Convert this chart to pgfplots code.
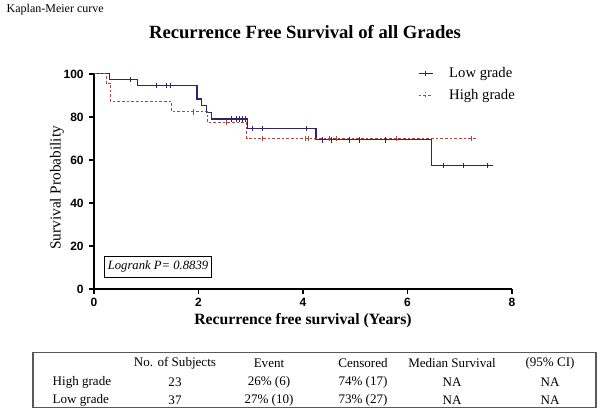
\documentclass[border=0pt]{standalone}
\usepackage{pgfplots}
\pgfplotsset{compat=1.18}
\usepackage{fontspec}
\setmainfont{Liberation Serif}
\newfontfamily\sansf{Liberation Sans}
\definecolor{lowc}{RGB}{45,35,110}
\definecolor{highc}{RGB}{170,70,60}
\begin{document}
\begin{tikzpicture}
\begin{scope}[x=0.75pt,y=-0.75pt]
\path[use as bounding box] (0,0) rectangle (600,408);
\end{scope}
\begin{axis}[
  at={(70.5pt,-216pt)}, anchor=south west,
  scale only axis, width=313.5pt, height=161.25pt,
  xmin=0, xmax=8, ymin=0, ymax=100,
  axis x line*=bottom, axis y line*=left,
  axis line style={line width=1.1pt},
  xtick={0,2,4,6,8}, ytick={0,20,40,60,80,100},
  tick align=outside, major tick length=3.75pt,
  tick style={line width=1.1pt, black},
  /pgf/number format/assume math mode=true,
  ticklabel style={font=\sansf\bfseries\fontsize{9}{10}\selectfont},
  yticklabel style={xshift=-0.5pt},
  xlabel={Recurrence free survival (Years)},
  xlabel style={at={(axis description cs:0.5,0)}, anchor=center, yshift=-24pt, font=\bfseries\fontsize{11.8}{14}\selectfont},
  ylabel={Survival Probability},
  ylabel style={at={(axis description cs:-0.0885,0.47)}, anchor=center, rotate=0, font=\fontsize{11.5}{13}\selectfont},
  legend style={at={(axis description cs:0.765,1.055)}, anchor=north west, draw=none, fill=none,
    font=\fontsize{11}{13}\selectfont, row sep=3pt},
  legend cell align=left,
  clip=false,
]
\addplot[const plot, color=lowc, line width=0.9pt,
  legend image code/.code={\draw[lowc, line width=0.9pt] (0pt,0pt) -- (10.5pt,0pt); \draw[lowc, line width=0.7pt] (5.25pt,-1.5pt) -- (5.25pt,2.2pt); \path (20.5pt,0pt);}]
  coordinates {(0,100)(0.29,97.3)(0.84,94.6)(1.97,88.3)(2.05,85.2)(2.16,82.2)(2.25,79.0)(2.94,74.6)(4.25,69.3)(6.46,57.5)(7.64,57.5)};
\addlegendentry{Low grade}
\addplot[const plot, color=highc, line width=0.75pt, dash pattern=on 2pt off 1.5pt,
  legend image code/.code={\draw[highc, line width=0.75pt, dash pattern=on 2pt off 1.5pt] (0pt,0pt) -- (10.5pt,0pt); \draw[highc, line width=0.6pt] (5.25pt,-1.5pt) -- (5.25pt,2.2pt); \path (20.5pt,0pt);}]
  coordinates {(0,100)(0.23,95.7)(0.32,87.0)(1.49,82.3)(2.17,77.4)(2.92,70.1)(7.32,70.1)};
\addlegendentry{High grade}
\addplot[only marks, mark=|, mark size=2pt, color=lowc, mark options={line width=0.7pt}, forget plot]
  coordinates {(0.69,97.3)(1.20,94.6)(1.38,94.6)(1.47,94.6)(2.64,79.0)(2.72,79.0)(2.79,79.0)(2.85,79.0)(2.90,79.0)(3.03,74.6)(3.23,74.6)(4.07,74.6)(4.37,69.3)(4.54,69.3)(4.89,69.3)(5.08,69.3)(5.57,69.3)(6.69,57.5)(7.08,57.5)(7.53,57.5)};
\addplot[only marks, mark=|, mark size=2pt, color=highc, mark options={line width=0.6pt}, forget plot]
  coordinates {(1.91,82.3)(2.54,77.4)(3.23,70.1)(4.04,70.1)(4.11,70.1)(4.50,70.1)(4.64,70.1)(5.79,70.1)(7.23,70.1)};
\end{axis}
\begin{scope}[x=0.75pt,y=-0.75pt]
\node[anchor=west, font=\fontsize{9}{11}\selectfont] at (2,9) {Kaplan-Meier curve};
\node[font=\bfseries\fontsize{14}{16}\selectfont] at (305,31) {Recurrence Free Survival of all Grades};
\node[draw, line width=0.6pt, inner sep=2.5pt, font=\itshape\fontsize{9.5}{11}\selectfont, minimum height=16pt] at (158,266) {Logrank P= 0.8839};
\draw[line width=0.9pt, black!65] (33,352) rectangle (596,407);
\begin{scope}[every node/.style={font=\fontsize{9.8}{12}\selectfont}]
\node at (175,362) {No. of Subjects};
\node at (269,362) {Event};
\node at (363,362) {Censored};
\node at (452,362) {Median Survival};
\node at (550,362) {(95\% CI)};
\node[anchor=west] at (48,381) {High grade};
\node at (175,381) {23};
\node at (269,381) {26\% (6)};
\node at (363,381) {74\% (17)};
\node at (452,381) {NA};
\node at (550,381) {NA};
\node[anchor=west] at (48,399) {Low grade};
\node at (175,399) {37};
\node at (269,399) {27\% (10)};
\node at (363,399) {73\% (27)};
\node at (452,399) {NA};
\node at (550,399) {NA};
\end{scope}
\end{scope}
\end{tikzpicture}
\end{document}
